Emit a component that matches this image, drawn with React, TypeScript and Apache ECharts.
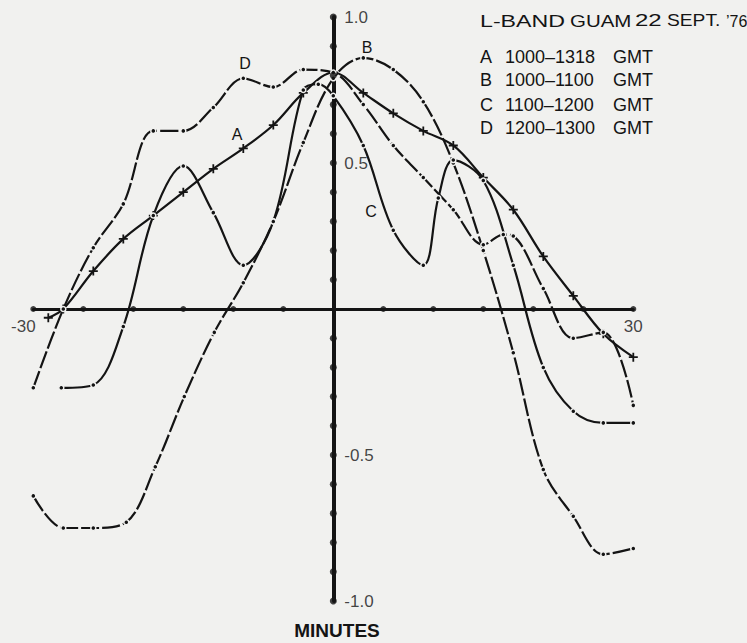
import React, { useEffect, useRef } from "react";
import * as echarts from "echarts";

// Normalised L-band signal versus time offset (minutes)
const curveA: [number, number][] = [
  [-28.5, -0.03], [-27, 0.0], [-24, 0.13], [-21, 0.24], [-18, 0.32], [-15, 0.4],
  [-12, 0.48], [-9, 0.55], [-6, 0.63], [-3, 0.74], [0, 0.81], [3, 0.74], [6, 0.67],
  [9, 0.61], [12, 0.56], [15, 0.45], [18, 0.34], [21, 0.18], [24, 0.045], [27, -0.085],
  [30, -0.165],
];
const curveB: [number, number][] = [
  [-30, -0.64], [-27, -0.75], [-24, -0.75], [-20.7, -0.73], [-17.8, -0.54], [-14.9, -0.3],
  [-11.9, -0.08], [-9, 0.09], [-6, 0.3], [-3, 0.57], [0, 0.79], [3, 0.86], [6, 0.82],
  [9, 0.71], [12, 0.5], [15, 0.2], [18, -0.15], [21, -0.55], [24, -0.71], [27, -0.84],
  [30, -0.82],
];
const curveC: [number, number][] = [
  [-27.2, -0.27], [-24, -0.26], [-21, -0.06], [-18, 0.32], [-15, 0.49], [-12, 0.33],
  [-9, 0.15], [-6, 0.3], [-3, 0.75], [-1.5, 0.77], [0, 0.73], [3, 0.56], [6, 0.27],
  [9, 0.15], [10.5, 0.38], [12, 0.51], [15, 0.44], [18, 0.15], [21, -0.2], [24, -0.35],
  [27, -0.39], [30, -0.39],
];
const curveD: [number, number][] = [
  [-30, -0.27], [-27, 0.0], [-24, 0.21], [-21, 0.36], [-18, 0.61], [-15, 0.61],
  [-12, 0.69], [-9, 0.79], [-6, 0.76], [-3, 0.82], [0, 0.81], [3, 0.7], [6, 0.56],
  [9, 0.45], [12, 0.34], [15, 0.22], [17, 0.255], [18, 0.25], [21, 0.07], [24, -0.1],
  [27, -0.08], [30, -0.33],
];

// Axis dots and labels
const xDots = [-30, -25, -20, -15, -10, -5, 5, 10, 15, 20, 25, 30];
const yDots = [
  -1.0, -0.9, -0.8, -0.7, -0.6, -0.5, -0.4, -0.3, -0.2, -0.1,
  0.1, 0.2, 0.3, 0.4, 0.5, 0.6, 0.7, 0.8, 0.9, 1.0,
];
const xLabelValues = [-30, 30];
const yLabelValues = [-1.0, -0.5, 0.5, 1.0];

// Key text
const titleWords = ["L-BAND", "GUAM", "22", "SEPT.", "\u201976"];
const keyLetters = ["A", "B", "C", "D"];
const keyRanges = ["1000\u20131318", "1000\u20131100", "1100\u20131200", "1200\u20131300"];
const keyUnit = "GMT";
const axisTitle = "MINUTES";

export default function App() {
  const ref = useRef<HTMLDivElement>(null);

  useEffect(() => {
    if (!ref.current) return;
    document.body.style.margin = "0";
    const chart = echarts.init(ref.current, null, { renderer: "svg" });

    const ink = "#141414";
    const paper = "#f1f1ef";
    const font = "'Liberation Sans', Arial, Helvetica, sans-serif";
    const cross = "path://M4,0L6,0L6,4L10,4L10,6L6,6L6,10L4,10L4,6L0,6L0,4L4,4Z";

    const curve = (
      name: string,
      data: [number, number][],
      symbol: string,
      size: number,
      dash: any
    ) => ({
      type: "line",
      name,
      data,
      smooth: 0.35,
      symbol,
      symbolSize: size,
      showAllSymbol: true,
      lineStyle: { color: ink, width: 2.2, type: dash },
      itemStyle: {
        color: ink,
        borderColor: symbol === "circle" ? paper : ink,
        borderWidth: symbol === "circle" ? 1.5 : 0,
      },
      z: 3,
    });

    // Widely tracked heading: each word placed and stretched on its own
    const titleX = [480, 570, 635, 667, 726];
    const titleStretch = [1.45, 1.28, 1.5, 1.2, 1];
    const keyY = [57, 80, 105, 128];

    const graphics: any[] = [];
    titleWords.forEach((w, i) =>
      graphics.push({
        type: "text",
        x: titleX[i],
        y: 21,
        scaleX: titleStretch[i],
        style: { text: w, font: `16px ${font}`, fill: ink, textVerticalAlign: "middle" },
      })
    );
    keyLetters.forEach((l, i) => {
      graphics.push({
        type: "text",
        x: 480,
        y: keyY[i],
        style: { text: l, font: `18px ${font}`, fill: ink, textVerticalAlign: "middle" },
      });
      graphics.push({
        type: "text",
        x: 505,
        y: keyY[i],
        style: { text: keyRanges[i], font: `18px ${font}`, fill: ink, textVerticalAlign: "middle" },
      });
      graphics.push({
        type: "text",
        x: 613,
        y: keyY[i],
        style: { text: keyUnit, font: `18px ${font}`, fill: ink, textVerticalAlign: "middle" },
      });
    });
    // Curve tags
    const tags: [string, number, number][] = [
      ["D", 245, 63],
      ["A", 237, 134],
      ["B", 367, 47],
      ["C", 371, 211],
    ];
    tags.forEach(([t, x, y]) =>
      graphics.push({
        type: "text",
        x,
        y,
        style: {
          text: t,
          font: `16px ${font}`,
          fill: ink,
          textAlign: "center",
          textVerticalAlign: "middle",
        },
      })
    );
    graphics.push({
      type: "text",
      x: 337,
      y: 630,
      style: {
        text: axisTitle,
        font: `bold 19px ${font}`,
        fill: ink,
        textAlign: "center",
        textVerticalAlign: "middle",
      },
    });

    const labelText = { color: ink, fontSize: 17, fontFamily: font };

    chart.setOption({
      animation: false,
      backgroundColor: paper,
      grid: { left: 33.3, right: 113.7, top: 17, bottom: 42 },
      xAxis: {
        type: "value",
        min: -30,
        max: 30,
        interval: 5,
        axisLine: { onZero: true, lineStyle: { color: ink, width: 3 } },
        axisTick: { show: false },
        splitLine: { show: false },
        axisLabel: { show: false },
      },
      yAxis: {
        type: "value",
        min: -1,
        max: 1,
        interval: 0.1,
        axisLine: { onZero: true, lineStyle: { color: ink, width: 4 } },
        axisTick: { show: false },
        splitLine: { show: false },
        axisLabel: { show: false },
      },
      series: [
        {
          type: "scatter",
          data: xDots.map((v) => [v, 0]),
          symbol: "circle",
          symbolSize: 6,
          itemStyle: { color: ink },
          z: 4,
          silent: true,
        },
        {
          type: "scatter",
          data: yDots.map((v) => [0, v]),
          symbol: "circle",
          symbolSize: 7,
          itemStyle: { color: ink },
          z: 4,
          silent: true,
        },
        // Minute labels under the time axis
        {
          type: "scatter",
          data: xLabelValues.map((v) => ({
            value: [v, 0],
            label: { offset: [v < 0 ? -10 : 0, 0] },
          })),
          symbol: "circle",
          symbolSize: 0,
          silent: true,
          label: {
            show: true,
            position: "bottom",
            distance: 9,
            ...labelText,
            formatter: (p: any) => String(p.value[0]),
          },
        },
        // Level labels beside the vertical axis
        {
          type: "scatter",
          data: yLabelValues.map((v) => [0, v]),
          symbol: "circle",
          symbolSize: 0,
          silent: true,
          label: {
            show: true,
            position: "right",
            distance: 11,
            ...labelText,
            formatter: (p: any) => p.value[1].toFixed(1),
          },
        },
        curve("A", curveA, cross, 9, "solid"),
        curve("B", curveB, "circle", 5, [18, 3]),
        curve("C", curveC, "circle", 5, "solid"),
        curve("D", curveD, "circle", 5, [18, 3]),
      ],
      graphic: graphics,
    });

    return () => chart.dispose();
  }, []);

  return (
    <div
      ref={ref}
      style={{ position: "absolute", left: 0, top: 0, width: 747, height: 643 }}
    />
  );
}
